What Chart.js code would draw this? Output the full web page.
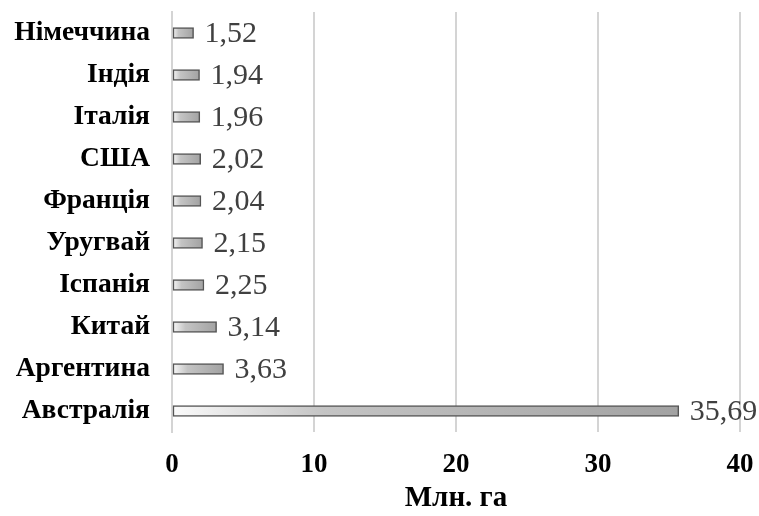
<!DOCTYPE html>
<html>
<head>
<meta charset="utf-8">
<script src="https://cdn.jsdelivr.net/npm/chart.js@4.4.0/dist/chart.umd.min.js"></script>
<style>
  html, body { margin: 0; padding: 0; background: #fff; }
  #wrap { width: 759px; height: 516px; }
</style>
</head>
<body>
<div id="wrap"><canvas id="bar-chart"></canvas></div>
<script>
var countries = ["Німеччина", "Індія", "Італія", "США", "Франція", "Уругвай", "Іспанія", "Китай", "Аргентина", "Австралія"];
var area = [1.52, 1.94, 1.96, 2.02, 2.04, 2.15, 2.25, 3.14, 3.63, 35.69];
var xTicks = [0, 10, 20, 30, 40];

var serif = "'Liberation Serif', 'Times New Roman', serif";

// gradient from white to grey along each bar
function barFill(context) {
    var chart = context.chart;
    var xs = chart.scales.x;
    if (!xs) return '#b0b0b0';
    var x0 = xs.getPixelForValue(0);
    var x1 = xs.getPixelForValue(area[context.dataIndex]);
    if (!isFinite(x0) || !isFinite(x1) || x1 - x0 < 1) return '#b0b0b0';
    var g = chart.ctx.createLinearGradient(x0, 0, x1, 0);
    g.addColorStop(0, '#fbfbfb');
    g.addColorStop(0.3, '#c4c4c4');
    g.addColorStop(1, '#a2a2a2');
    return g;
}

// value labels after the bar end, comma decimals
var valueLabels = {
    id: 'valueLabels',
    afterDatasetsDraw: function (chart) {
        var ctx = chart.ctx;
        var meta = chart.getDatasetMeta(0);
        ctx.save();
        ctx.font = "30px " + serif;
        ctx.fillStyle = '#404040';
        ctx.textAlign = 'left';
        ctx.textBaseline = 'middle';
        meta.data.forEach(function (bar, i) {
            var txt = area[i].toFixed(2).replace('.', ',');
            ctx.fillText(txt, bar.x + 11, bar.y + 1);
        });
        ctx.restore();
    }
};

new Chart(document.getElementById("bar-chart"), {
    type: 'bar',
    data: {
        labels: countries,
        datasets: [{
            label: "Млн. га",
            data: area,
            backgroundColor: barFill,
            borderColor: '#555555',
            borderWidth: 1.5,
            borderSkipped: false,
            barThickness: 11
        }]
    },
    options: {
        indexAxis: 'y',
        responsive: true,
        maintainAspectRatio: false,
        animation: false,
        layout: { padding: { top: 12, right: 19, left: 4, bottom: 0 } },
        plugins: {
            legend: { display: false },
            tooltip: { enabled: false }
        },
        scales: {
            x: {
                min: 0,
                max: 40,
                afterBuildTicks: function (axis) {
                    axis.ticks = xTicks.map(function (v) { return { value: v }; });
                },
                afterFit: function (scale) {
                    scale.paddingLeft = 0;
                    scale.paddingRight = 0;
                    scale.height = 84;
                },
                grid: { color: '#d4d4d4', lineWidth: 2, drawTicks: false },
                border: { display: false },
                ticks: {
                    color: '#000',
                    padding: 17,
                    font: { family: serif, size: 27, weight: 'bold' }
                },
                title: {
                    display: true,
                    text: 'Млн. га',
                    color: '#000',
                    padding: { top: 1, bottom: 0 },
                    font: { family: serif, size: 29, weight: 'bold' }
                }
            },
            y: {
                afterFit: function (scale) {
                    scale.paddingTop = 0;
                    scale.paddingBottom = 0;
                    scale.width = 168;
                },
                grid: { display: false, drawTicks: false },
                border: { display: true, color: '#d4d4d4', width: 2 },
                ticks: {
                    color: '#000',
                    padding: 22,
                    font: { family: serif, size: 27.5, weight: 'bold' }
                }
            }
        }
    },
    plugins: [valueLabels]
});
</script>
</body>
</html>
